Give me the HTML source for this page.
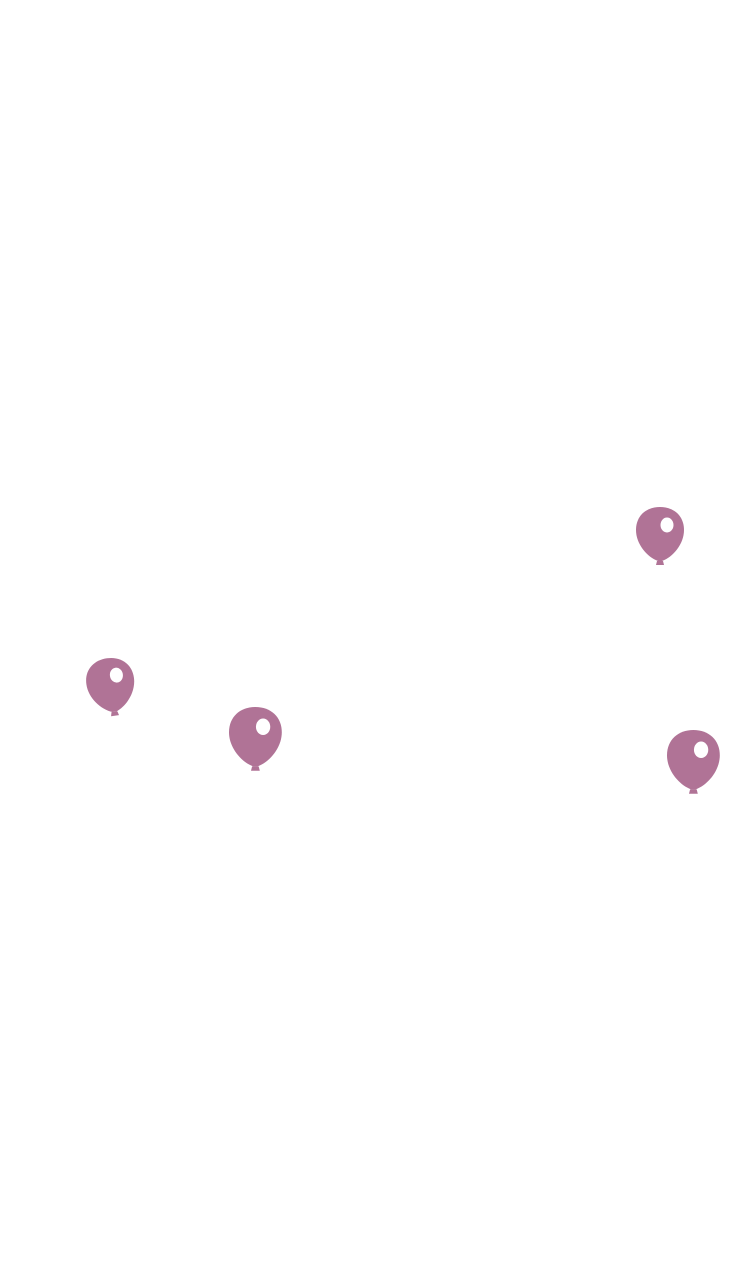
<!DOCTYPE html>
<html><head><style>html,body{margin:0;padding:0;background:#fff;width:750px;height:1267px;overflow:hidden}</style></head>
<body>
<svg width="750" height="1267" viewBox="0 0 750 1267" xmlns="http://www.w3.org/2000/svg">
<defs>
<g id="b">
<path d="M24 0 C38 0 48 9 48 23 C48 37 37 50 26 54 L22 54 C11 50 0 37 0 23 C0 9 10 0 24 0 Z" fill="#b07396"/>
<path d="M21 54 L27 54 L28 58 L20 58 Z" fill="#b07396"/>
<ellipse cx="31" cy="18" rx="6.5" ry="7.5" fill="#fff"/>
</g>
</defs>
<use href="#b" transform="translate(636,507)"/>
<use href="#b" transform="translate(87,658) rotate(-8 24 29)"/>
<use href="#b" transform="translate(229,707) scale(1.1)"/>
<use href="#b" transform="translate(667,730) scale(1.1)"/>
</svg>
</body></html>
